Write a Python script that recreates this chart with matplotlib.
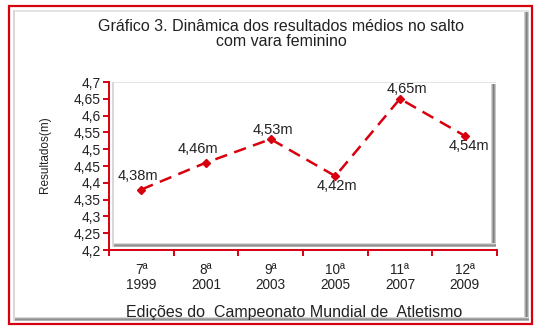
import matplotlib.pyplot as plt
from matplotlib.patches import Rectangle
from matplotlib.ticker import FixedLocator, FuncFormatter

editions = ["7ª", "8ª", "9ª", "10ª", "11ª", "12ª"]
years = ["1999", "2001", "2003", "2005", "2007", "2009"]
results = [4.38, 4.46, 4.53, 4.42, 4.65, 4.54]
# label offset (px) of each value label from its point
label_dx = [-3, -8, 2, 2, 7, 4]
label_dy = [14, 14, 9, -10, 10, -10]

W, H = 537, 333
RED = "#d7000f"
INK = "#222222"

plt.rcParams["font.family"] = ["Liberation Sans", "DejaVu Sans"]


def px(x, y):
    """pixel coords (origin top-left) -> figure fraction"""
    return x / W, 1 - y / H


def box(fig, x0, y0, x1, y1, **kw):
    fx, fy = px(x0, y1)
    fig.patches.append(Rectangle((fx, fy), (x1 - x0) / W, (y1 - y0) / H,
                                 transform=fig.transFigure, **kw))


def bevel(fig, x0, y0, x1, y1, w=5):
    # light top/left edge, dark shadow on right and bottom
    box(fig, x0, y0, x1, y0 + 1.5, fc="#e4e4e4", ec="none")
    box(fig, x0, y0, x0 + 1.5, y1, fc="#d8d8d8", ec="none")
    for i, c in enumerate(["#d0d0d0", "#a8a8a8", "#808080", "#9a9a9a", "#c8c8c8"][:w]):
        box(fig, x1 - w + i, y0 + 2, x1 - w + i + 1, y1, fc=c, ec="none")
    for i, c in enumerate(["#d8d8d8", "#a8a8a8", "#909090", "#b0b0b0"]):
        box(fig, x0 + 2, y1 - 4 + i, x1, y1 - 3 + i, fc=c, ec="none")


fig = plt.figure(figsize=(W / 100, H / 100), dpi=100)
fig.patch.set_facecolor("white")

# outer red frame with grey bevel inside
box(fig, 9, 6, 532, 324, fc="none", ec=RED, lw=1.6)
bevel(fig, 13, 10, 529, 321, w=5)

x0, x1 = px(109, 250), px(497, 82)
ax = fig.add_axes([x0[0], x0[1], x1[0] - x0[0], x1[1] - x0[1]])
ax.set_facecolor("none")
bevel(fig, 112, 82, 496, 247, w=5)

xs = [i + 0.5 for i in range(len(results))]
ax.plot(xs, results, color=RED, lw=1.8, ls=(0, (5, 3)), marker="D", ms=4,
        zorder=5, clip_on=False)
for x, v, dx, dy in zip(xs, results, label_dx, label_dy):
    ax.annotate(f"{v:.2f}m".replace(".", ","), (x, v), xytext=(dx, dy),
                textcoords="offset pixels", ha="center", va="center",
                fontsize=10.5, color=INK)

ax.set_xlim(0, len(results))
ax.set_ylim(4.2, 4.7)
for s in ["top", "right"]:
    ax.spines[s].set_visible(False)
for s in ["left", "bottom"]:
    ax.spines[s].set_color(RED)
    ax.spines[s].set_linewidth(1.4)

ax.yaxis.set_major_locator(FixedLocator([4.2 + 0.05 * i for i in range(11)]))
ax.yaxis.set_major_formatter(FuncFormatter(
    lambda v, p: f"{v:.2f}".rstrip("0").replace(".", ",")))
ax.xaxis.set_major_locator(FixedLocator(range(len(results) + 1)))
ax.xaxis.set_major_formatter(FuncFormatter(lambda v, p: ""))
ax.xaxis.set_minor_locator(FixedLocator(xs))
ax.set_xticklabels([f"{e}\n{y}" for e, y in zip(editions, years)], minor=True)
ax.tick_params(axis="both", which="major", color=RED, width=1.4, length=4,
               labelsize=10, labelcolor=INK)
ax.tick_params(axis="x", which="minor", length=0, pad=9, labelsize=9.8,
               labelcolor=INK)
ax.tick_params(axis="y", pad=2)
for t in ax.xaxis.get_minorticklabels():
    t.set_linespacing(1.1)

fx, fy = px(281, 34)
fig.text(fx, fy, "Gráfico 3. Dinâmica dos resultados médios no salto\ncom vara feminino",
         ha="center", va="center", fontsize=11.5, color=INK, linespacing=1.05)
fx, fy = px(45, 155)
fig.text(fx, fy, "Resultados(m)", rotation=90, ha="center", va="center",
         fontsize=8.5, color=INK)
fx, fy = px(294, 312)
fig.text(fx, fy, "Edições do  Campeonato Mundial de  Atletismo",
         ha="center", va="center", fontsize=11.5, color=INK)

fig.savefig("out.png", dpi=100)
